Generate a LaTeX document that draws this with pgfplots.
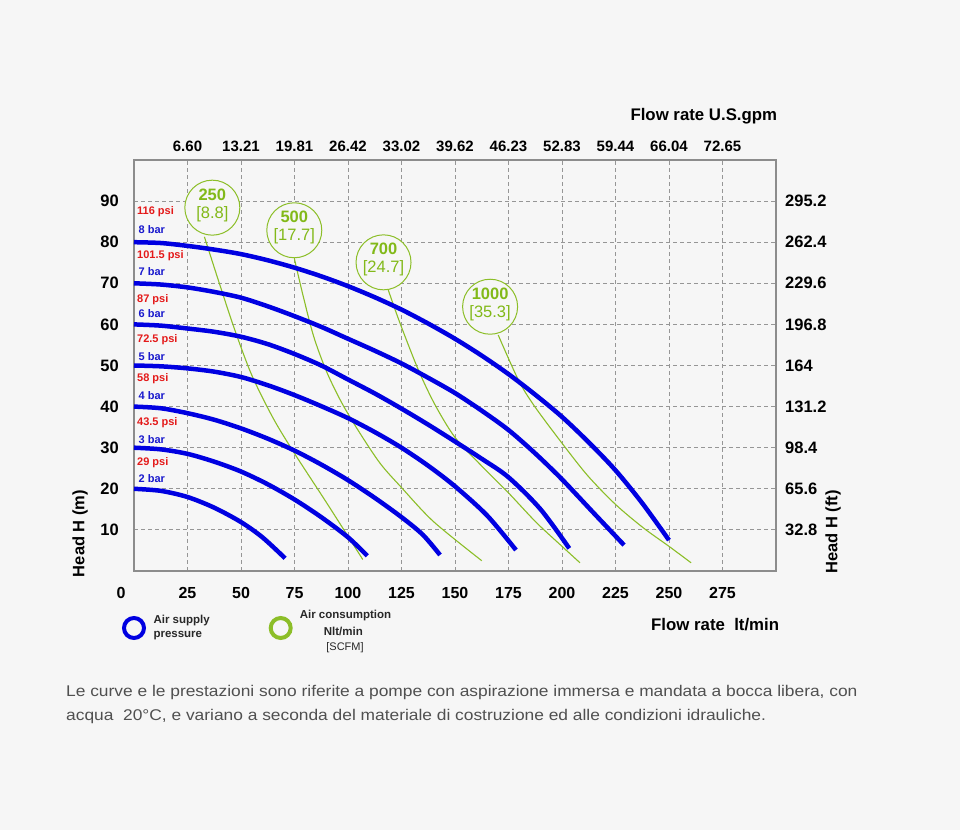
\documentclass[border=0pt]{standalone}
\usepackage{fontspec}
\setmainfont{Liberation Sans}
\newfontfamily\notefont{Liberation Sans}[FakeStretch=1.12]
\usepackage{pgfplots}
\pgfplotsset{compat=1.18}
\definecolor{bg}{RGB}{246,246,246}
\definecolor{cblue}{RGB}{0,0,225}
\definecolor{cgreen}{RGB}{140,190,40}
\definecolor{tgreen}{RGB}{130,185,25}
\definecolor{cred}{RGB}{228,25,25}
\definecolor{lblue}{RGB}{25,25,205}
\definecolor{gridc}{RGB}{150,150,150}
\definecolor{framec}{RGB}{140,140,140}
\definecolor{foot}{RGB}{80,80,80}
\definecolor{legtext}{RGB}{40,40,40}

\begin{document}
\begin{tikzpicture}[x=1pt,y=1pt]
\fill[bg] (0,0) rectangle (960,830);
\begin{axis}[
  at={(134pt,259pt)}, anchor=south west, scale only axis,
  width=642pt, height=411pt,
  xmin=0, xmax=300, ymin=0, ymax=100,
  axis background/.style={fill=bg},
  grid=major,
  major grid style={gridc, dash pattern=on 4pt off 3pt, line width=0.8pt},
  axis line style={framec, line width=1.5pt},
  major tick length=0pt,
  xtick={25,50,75,100,125,150,175,200,225,250,275},
  xticklabels={25,50,75,100,125,150,175,200,225,250,275},
  ytick={10,20,30,40,50,60,70,80,90},
  yticklabels={10,20,30,40,50,60,70,80,90},
  xticklabel style={anchor=center, yshift=-22pt, inner sep=0pt, font=\fontsize{16}{16}\selectfont\bfseries},
  yticklabel style={anchor=east, xshift=-15pt, inner sep=0pt, font=\fontsize{16.5}{16}\selectfont\bfseries},
  clip=false,
]
% air consumption lines
\addplot[cgreen, line width=1.1pt, smooth] coordinates {(32.9,81.3)(40,69.8)(47,58.8)(55,47.7)(65,37.2)(75,28.6)(90,16.6)(106.9,2.8)};
\addplot[cgreen, line width=1.1pt, smooth] coordinates {(74.9,76.1)(79,67)(84,57)(90,48.5)(97,41)(105,34)(115,26.2)(125,20.3)(140,12)(162.5,2.5)};
\addplot[cgreen, line width=1.1pt, smooth] coordinates {(118.8,68.4)(124.3,60.3)(132.9,48.9)(140.7,40.4)(150,32.5)(162,25.8)(175,19)(188,11.8)(200,6)(208.4,2)};
\addplot[cgreen, line width=1.1pt, smooth] coordinates {(170.2,57.4)(179.6,46.5)(187,40.2)(200,31.1)(212,23.2)(225,16.2)(238,10.5)(250,6)(260.3,2)};
% air supply pressure curves
\addplot[cblue, line width=4.5pt, smooth] coordinates {(0,20)(12.5,19.5)(25,18.0)(37.5,15.4)(50,11.9)(60,8.2)(70.6,3.1)};
\addplot[cblue, line width=4.5pt, smooth] coordinates {(0,30)(12.5,29.6)(25,28.5)(37.5,26.6)(50,24.2)(62.5,21.1)(75,17.4)(87.5,13.1)(100,8.2)(109,3.7)};
\addplot[cblue, line width=4.5pt, smooth] coordinates {(0,40)(12.5,39.6)(25,38.4)(37.5,36.8)(50,34.7)(62.5,32.2)(75,29.3)(87.5,25.9)(100,22.1)(112.5,17.8)(125,13.1)(135,8.8)(143,3.9)};
\addplot[cblue, line width=4.5pt, smooth] coordinates {(0,50)(12.5,49.8)(25,49.3)(37.5,48.5)(50,47.2)(62.5,45.2)(75,42.8)(87.5,40.1)(100,37.2)(112.5,33.8)(125,30.0)(137.5,25.6)(150,20.6)(165,13.5)(178.5,5.1)};
\addplot[cblue, line width=4.5pt, smooth] coordinates {(0,60)(12.5,59.7)(25,59.0)(37.5,58.2)(50,57.0)(62.5,55.2)(75,52.8)(87.5,50.0)(100,46.6)(112.5,43.2)(125,39.5)(137.5,35.6)(150,31.5)(162.5,27.3)(175,22.8)(190,15.0)(203.4,5.5)};
\addplot[cblue, line width=4.5pt, smooth] coordinates {(0,70)(12.5,69.7)(25,69.0)(37.5,67.9)(50,66.5)(62.5,64.4)(75,62.0)(87.5,59.4)(100,56.5)(112.5,53.6)(125,50.5)(137.5,47.0)(150,43.3)(162.5,39.0)(175,34.3)(187.5,28.6)(200,22.3)(215,14.0)(229,6.3)};
\addplot[cblue, line width=4.5pt, smooth] coordinates {(0,80)(12.5,79.8)(25,79.1)(37.5,78.2)(50,77.1)(62.5,75.6)(75,73.8)(87.5,71.7)(100,69.3)(112.5,66.6)(125,63.6)(137.5,60.2)(150,56.5)(162.5,52.4)(175,47.9)(187.5,42.9)(200,37.5)(212.5,31.3)(225,24.5)(237.5,16.5)(250,7.5)};
% pressure labels
\begin{scope}[every node/.style={anchor=west, inner sep=0pt, font=\fontsize{11}{11}\selectfont\bfseries}]
\node[text=cred] at (axis cs:1.4,87.4) {116 psi};
\node[text=lblue] at (axis cs:2.1,83.0) {8 bar};
\node[text=cred] at (axis cs:1.4,76.7) {101.5 psi};
\node[text=lblue] at (axis cs:2.1,72.8) {7 bar};
\node[text=cred] at (axis cs:1.4,66.1) {87 psi};
\node[text=lblue] at (axis cs:2.1,62.7) {6 bar};
\node[text=cred] at (axis cs:1.4,56.2) {72.5 psi};
\node[text=lblue] at (axis cs:2.1,52.1) {5 bar};
\node[text=cred] at (axis cs:1.4,46.7) {58 psi};
\node[text=lblue] at (axis cs:2.1,42.7) {4 bar};
\node[text=cred] at (axis cs:1.4,36.1) {43.5 psi};
\node[text=lblue] at (axis cs:2.1,31.9) {3 bar};
\node[text=cred] at (axis cs:1.4,26.4) {29 psi};
\node[text=lblue] at (axis cs:2.1,22.4) {2 bar};
\end{scope}
% consumption circles
\begin{scope}[every node/.style={circle, draw=cgreen, line width=1pt, fill=bg, minimum size=55pt, inner sep=0pt}]
\node at (axis cs:36.6,88.4) {};
\node at (axis cs:74.9,82.9) {};
\node at (axis cs:116.6,75.1) {};
\node at (axis cs:166.4,64.3) {};
\end{scope}
\begin{scope}[every node/.style={align=center, text=tgreen, inner sep=0pt, yshift=2.5pt, font=\fontsize{16.5}{18}\selectfont}]
\node at (axis cs:36.6,88.4) {\textbf{250}\\{}[8.8]};
\node at (axis cs:74.9,82.9) {\textbf{500}\\{}[17.7]};
\node at (axis cs:116.6,75.1) {\textbf{700}\\{}[24.7]};
\node at (axis cs:166.4,64.3) {\textbf{1000}\\{}[35.3]};
\end{scope}
\end{axis}
% top and right scales
\begin{axis}[
  at={(134pt,259pt)}, anchor=south west, scale only axis,
  width=642pt, height=411pt,
  xmin=0, xmax=300, ymin=0, ymax=100,
  axis x line*=top, axis y line*=right,
  axis line style={draw=none},
  major tick length=0pt,
  xtick={25,50,75,100,125,150,175,200,225,250,275},
  xticklabels={6.60,13.21,19.81,26.42,33.02,39.62,46.23,52.83,59.44,66.04,72.65},
  ytick={10,20,30,40,50,60,70,80,90},
  yticklabels={32.8,65.6,98.4,131.2,164,196.8,229.6,262.4,295.2},
  xticklabel style={anchor=center, yshift=14pt, inner sep=0pt, font=\fontsize{15}{15}\selectfont\bfseries},
  yticklabel style={anchor=west, xshift=9pt, inner sep=0pt, font=\fontsize{16.5}{16}\selectfont\bfseries},
]
\end{axis}
% axis titles
\node[font=\fontsize{16.8}{17}\selectfont\bfseries, anchor=east, inner sep=0pt] at (777.3,714) {Flow rate U.S.gpm};
\node[font=\fontsize{16.8}{17}\selectfont\bfseries, anchor=east, inner sep=0pt] at (779.3,205) {Flow rate\ \ lt/min};
\node[font=\fontsize{16.5}{17}\selectfont\bfseries, rotate=90, inner sep=0pt] at (80,296.5) {Head H (m)};
\node[font=\fontsize{16.5}{17}\selectfont\bfseries, rotate=90, inner sep=0pt] at (833,298) {Head H (ft)};
\node[font=\fontsize{16}{16}\selectfont\bfseries, inner sep=0pt] at (121,237) {0};
% legend
\draw[cblue, line width=4pt] (134,202) circle (10);
\draw[cgreen, line width=4pt] (280.7,202) circle (10);
\begin{scope}[every node/.style={inner sep=0pt, text=legtext, font=\fontsize{11.5}{12}\selectfont\bfseries}]
\node[anchor=west] at (153.3,209.3) {Air supply};
\node[anchor=west] at (153.3,194.3) {pressure};
\node at (345.5,214) {Air consumption};
\node at (343.3,198.3) {Nlt/min};
\node[font=\fontsize{11}{12}\selectfont] at (345,182) {[SCFM]};
\end{scope}
% note
\begin{scope}[every node/.style={anchor=west, inner sep=0pt, text=foot, font=\notefont\fontsize{15.5}{18}\selectfont}]
\node at (66,138) {Le curve e le prestazioni sono riferite a pompe con aspirazione immersa e mandata a bocca libera, con};
\node at (66,114) {acqua\ \ 20°C, e variano a seconda del materiale di costruzione ed alle condizioni idrauliche.};
\end{scope}
\pgfresetboundingbox
\path[use as bounding box] (0,0) rectangle (960,830);
\end{tikzpicture}
\end{document}
